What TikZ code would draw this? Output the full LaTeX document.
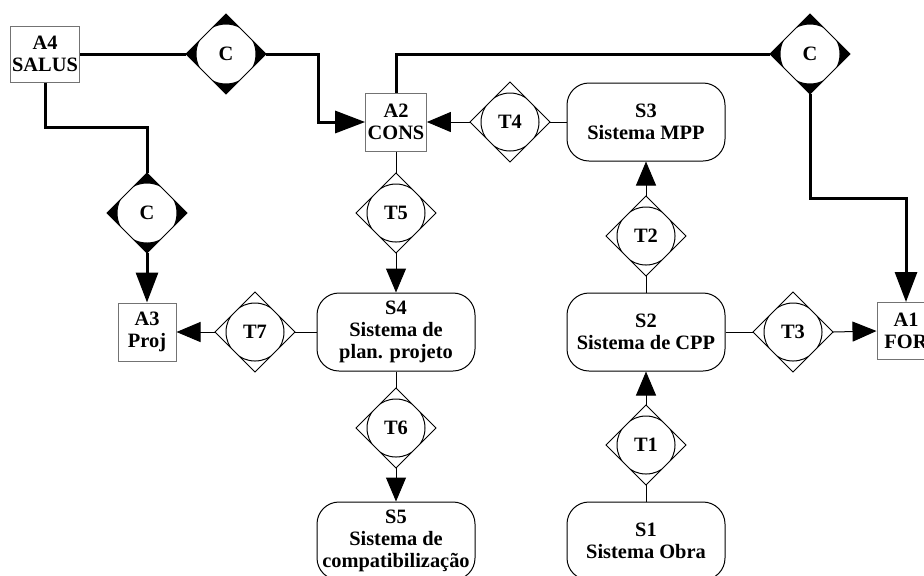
\documentclass[tikz,border=0pt]{standalone}
\usepackage{fontspec}
\setmainfont{Liberation Serif}
\usetikzlibrary{positioning,arrows.meta,shapes.geometric}

\begin{document}
\begin{tikzpicture}[
  x=0.5pt, y=-0.5pt,
  font=\fontsize{10.2}{11}\selectfont\bfseries,
  agent/.style 2 args={draw=black!55, line width=0.5pt, fill=white,
    align=center, inner sep=1pt, minimum width=#1, minimum height=#2},
  sys/.style={draw, line width=0.5pt, rounded corners=11pt, align=center,
    inner sep=1pt, minimum width=79pt, minimum height=39pt},
  trans/.style={diamond, draw, line width=0.5pt, aspect=1, inner sep=0pt,
    outer sep=0pt, minimum width=40pt, minimum height=40pt,
    path picture={\draw[line width=0.5pt]
      (path picture bounding box.center) circle (14.5pt);}},
  ctrl/.style={diamond, draw, fill=black, line width=0.5pt, aspect=1,
    inner sep=0pt, outer sep=0pt, minimum width=40pt, minimum height=40pt,
    path picture={\draw[fill=white, line width=0.5pt]
      (path picture bounding box.center) circle (15pt);}},
  link/.style={line width=0.5pt},
  arr/.style={-{Triangle[length=12pt, width=10pt]}, line width=0.5pt},
  clink/.style={line width=1.5pt},
  carr/.style={-{Triangle[length=15pt, width=11pt]}, line width=1.5pt},
]
\useasboundingbox (0,0) rectangle (924,575);

% Agents.
\node[agent={34pt}{28pt}] (a4) at (45,54) {A4\\SALUS};
\node[agent={29pt}{29pt}] (a2) at (396,122) {A2\\CONS};
\node[agent={29pt}{29pt}] (a3) at (147,332) {A3\\Proj};
\node[agent={29pt}{28.5pt}] (a1) at (906,331) {A1\\FOR};

% Systems.
\node[sys] (s3) at (646,122) {S3\\Sistema MPP};
\node[sys] (s2) at (646,332) {S2\\Sistema de CPP};
\node[sys] (s1) at (646,541) {S1\\Sistema Obra};
\node[sys] (s4) at (396,332) {S4\\Sistema de\\plan. projeto};
\node[sys] (s5) at (396,541) {S5\\Sistema de\\compatibiliza\c{c}\~ao};

% Transactions.
\node[trans] (t1) at (646,445) {T1};
\node[trans] (t2) at (646,236) {T2};
\node[trans] (t3) at (793,332) {T3};
\node[trans] (t4) at (510,122) {T4};
\node[trans] (t5) at (396,213) {T5};
\node[trans] (t6) at (396,428) {T6};
\node[trans] (t7) at (255,332) {T7};

% Control links.
\node[ctrl] (c1) at (226,54) {C};
\node[ctrl] (c2) at (810,54) {C};
\node[ctrl] (c3) at (147,213) {C};
\coordinate (k1) at (318,54);
\coordinate (k2) at (810,198);
\coordinate (k3) at (45,127);

\draw[clink] (a4.east) -- (c1.west);
\draw[carr] (c1.east) -- (k1) |- (a2.west);
\draw[clink] (a2.north) |- (c2.west);
\draw[carr] (c2.south) -- (k2) -| (a1.north);
\draw[clink] (a4.south) -- (k3) -| (c3.north);
\draw[carr] (c3.south) -- (a3.north);

\draw[link] (s3.west) -- (t4.east);
\draw[arr] (t4.west) -- (a2.east);
\draw[link] (a2.south) -- (t5.north);
\draw[arr] (t5.south) -- (s4.north);
\draw[link] (s4.west) -- (t7.east);
\draw[arr] (t7.west) -- (a3.east);
\draw[link] (s4.south) -- (t6.north);
\draw[arr] (t6.south) -- (s5.north);
\draw[link] (s1.north) -- (t1.south);
\draw[arr] (t1.north) -- (s2.south);
\draw[link] (s2.north) -- (t2.south);
\draw[arr] (t2.north) -- (s3.south);
\draw[link] (s2.east) -- (t3.west);
\draw[arr] (t3.east) -- (a1.west);

\end{tikzpicture}
\end{document}
